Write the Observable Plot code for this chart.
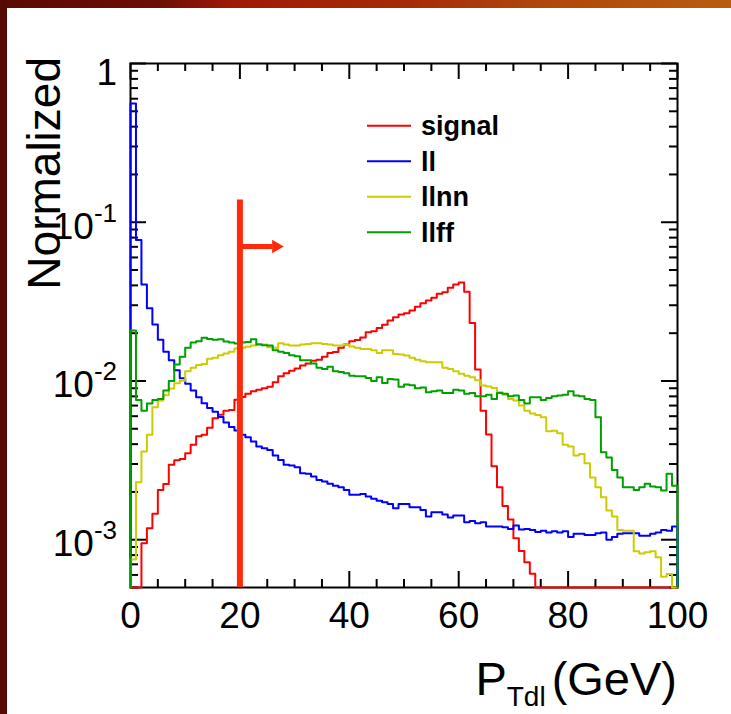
<!DOCTYPE html>
<html><head><meta charset="utf-8">
<script src="https://cdn.jsdelivr.net/npm/d3@7"></script>
<script src="https://cdn.jsdelivr.net/npm/@observablehq/plot@0.6"></script>
<style>
html,body{margin:0;padding:0;background:#fff;}
#wrap{position:relative;width:731px;height:714px;overflow:hidden;background:#fff;}
#leftband{position:absolute;left:0;top:0;width:7px;height:714px;background:#560a04;}
#topband{position:absolute;left:0;top:0;width:731px;height:8px;background:linear-gradient(90deg,#5a0a04 0%,#6e0e04 22%,#a01a06 32%,#a52a08 55%,#b0480c 75%,#b85c10 100%);}
svg text{font-family:"Liberation Sans",Arial,Helvetica,sans-serif;}
</style></head><body>
<div id="wrap"><div id="chart"></div><div id="topband"></div><div id="leftband"></div></div>
<script>
// ---- data (normalized content per 1 GeV bin, 0..100 GeV) ----
const binLow = d3.range(0, 100);
const signal = [0,0,0.00095,0.00118,0.00146,0.00206,0.00224,0.00297,0.00317,0.00322,
0.0035,0.00396,0.00449,0.00459,0.00507,0.00583,0.00612,0.0065,0.00656,0.00762,
0.00793,0.00832,0.0086,0.0088,0.0090,0.0092,0.0098,0.0107,0.0112,0.0116,
0.0120,0.0125,0.0129,0.0134,0.0136,0.0142,0.0150,0.0152,0.0162,0.0170,
0.0178,0.0181,0.0188,0.0203,0.0206,0.0216,0.0226,0.0240,0.0252,0.0262,
0.0267,0.0278,0.0294,0.0309,0.0321,0.0334,0.0354,0.0362,0.0386,0.0405,
0.0417,0.0365,0.0232,0.0118,0.0065,0.0046,0.0029,0.00214,0.00163,0.00134,
0.00102,0.00085,0.00072,0.00061,0,0,0,0,0,0,
0,0,0,0,0,0,0,0,0,0,
0,0,0,0,0,0,0,0,0,0];
const ll = [0.56,0.0773,0.0406,0.0287,0.0227,0.0182,0.0153,0.0135,0.0117,0.0104,
0.0096,0.0087,0.0079,0.00725,0.00676,0.0064,0.00594,0.00547,0.00513,0.00488,
0.00459,0.00442,0.00416,0.00386,0.00377,0.00368,0.00339,0.00318,0.00297,0.00293,
0.00286,0.00262,0.0026,0.0025,0.00238,0.00233,0.00225,0.00219,0.00214,0.00206,
0.00192,0.00192,0.00194,0.00187,0.00181,0.00176,0.00172,0.00168,0.00158,0.00168,
0.00168,0.0016,0.0016,0.00154,0.0014,0.00149,0.00149,0.00144,0.00138,0.00142,
0.00142,0.00129,0.00131,0.00127,0.00129,0.00121,0.00121,0.00121,0.0012,0.00117,
0.00123,0.00116,0.00117,0.00115,0.00112,0.00114,0.00111,0.00113,0.00111,0.00113,
0.00104,0.00109,0.00109,0.00107,0.00107,0.0011,0.00111,0.0010,0.00104,0.00109,
0.0011,0.0011,0.0011,0.00106,0.00106,0.00109,0.00111,0.00115,0.00114,0.00121];
const llnn = [0.00075,0.0023,0.00359,0.00459,0.00682,0.00753,0.00812,0.00897,0.00966,0.01005,
0.0115,0.0121,0.0126,0.0128,0.0138,0.0140,0.0145,0.0149,0.0153,0.0160,
0.0162,0.0164,0.0167,0.0171,0.0170,0.0163,0.0162,0.0173,0.0170,0.0167,
0.0167,0.0170,0.0171,0.0173,0.0173,0.0171,0.0170,0.0167,0.0167,0.0170,
0.0165,0.0162,0.0159,0.0159,0.0156,0.0150,0.0156,0.0156,0.0148,0.0147,
0.01445,0.0140,0.0136,0.0133,0.0131,0.0131,0.0131,0.0121,0.0119,0.0115,
0.0111,0.0108,0.01055,0.0101,0.00936,0.00922,0.00904,0.00849,0.0082,0.0077,
0.00753,0.0070,0.0065,0.00625,0.0061,0.0059,0.00482,0.00486,0.00468,0.00397,
0.00386,0.00339,0.00347,0.00303,0.00247,0.00214,0.00185,0.00153,0.0014,0.00115,
0.00114,0.00114,0.000845,0.00082,0.000834,0.000845,0.000775,0.000585,0.000608,0.00048];
const llff = [0.0208,0.0076,0.0065,0.0072,0.0076,0.0077,0.0087,0.0100,0.0127,0.0142,
0.0162,0.0175,0.0178,0.0187,0.0184,0.0182,0.0183,0.0177,0.0175,0.0172,
0.0175,0.0176,0.0183,0.0170,0.0168,0.0167,0.0156,0.0153,0.0150,0.0145,
0.0143,0.0135,0.0135,0.0129,0.0121,0.0119,0.0123,0.0115,0.0114,0.0112,
0.0108,0.0107,0.0107,0.01045,0.0100,0.01055,0.0097,0.0103,0.0102,0.0092,
0.0095,0.0094,0.0090,0.0091,0.0085,0.0086,0.0087,0.0084,0.0084,0.0088,
0.0087,0.0083,0.0084,0.0080,0.0080,0.0082,0.0077,0.0084,0.0083,0.0080,
0.0081,0.0076,0.0072,0.0079,0.0079,0.0076,0.0078,0.0080,0.0081,0.0082,
0.0086,0.0081,0.0080,0.0077,0.0076,0.0059,0.00356,0.0033,0.00275,0.00247,
0.00214,0.00214,0.00206,0.00214,0.00225,0.00216,0.00214,0.00204,0.0026,0.00219];
const seriesNames = ["signal", "ll", "llnn", "llff"];
const seriesColors = ["#ff0000", "#0000ff", "#cccc00", "#00a000"];
const xTickLabels = [0, 20, 40, 60, 80, 100];
const xMinorTicks = d3.range(0, 101, 5);
const yMajorTicks = [1, 0.1, 0.01, 0.001];
const yTickExponents = ["", "-1", "-2", "-3"];
const yMinorTicks = [0.0005,0.0006,0.0007,0.0008,0.0009,
  0.002,0.003,0.004,0.005,0.006,0.007,0.008,0.009,
  0.02,0.03,0.04,0.05,0.06,0.07,0.08,0.09,
  0.2,0.3,0.4,0.5,0.6,0.7,0.8,0.9];
const cut = {x: 20, top: 0.144, arrowY: 0.0703, lineEnd: 26, head: 26.6};
const yMin = 5e-4, yMax = 1, xMax = 100;

// ---- layout ----
const W = 731, H = 714, mL = 130, mR = 54, mT = 63, mB = 127;
const innerW = W - mL - mR, innerH = H - mT - mB;

function stepPoints(vals) {
  const pts = [{x: 0, y: yMin}];
  vals.forEach((v, i) => pts.push({x: binLow[i], y: Math.max(v, yMin)}));
  pts.push({x: xMax, y: Math.max(vals[vals.length - 1], yMin)});
  pts.push({x: xMax, y: yMin});
  return pts;
}
const allSeries = [signal, ll, llnn, llff];

const chart = Plot.plot({
  width: W, height: H, marginLeft: mL, marginRight: mR, marginTop: mT, marginBottom: mB,
  style: {background: "transparent", overflow: "visible"},
  x: {domain: [0, xMax], axis: null},
  y: {type: "log", domain: [yMin, yMax], axis: null},
  marks: [
    Plot.ruleX(xMinorTicks.filter(d => d % 20 !== 0), {x: d => d, insetTop: innerH - 8, stroke: "black", strokeWidth: 2}),
    Plot.ruleX(xTickLabels, {x: d => d, insetTop: innerH - 16, stroke: "black", strokeWidth: 2}),
    Plot.ruleX(xMinorTicks.filter(d => d % 20 !== 0), {x: d => d, insetBottom: innerH - 8, stroke: "black", strokeWidth: 2}),
    Plot.ruleX(xTickLabels, {x: d => d, insetBottom: innerH - 16, stroke: "black", strokeWidth: 2}),
    Plot.ruleY(yMinorTicks, {y: d => d, insetRight: innerW - 8, stroke: "black", strokeWidth: 2}),
    Plot.ruleY(yMajorTicks, {y: d => d, insetRight: innerW - 16, stroke: "black", strokeWidth: 2}),
    Plot.ruleY(yMinorTicks, {y: d => d, insetLeft: innerW - 8, stroke: "black", strokeWidth: 2}),
    Plot.ruleY(yMajorTicks, {y: d => d, insetLeft: innerW - 16, stroke: "black", strokeWidth: 2}),
    Plot.frame({stroke: "black", strokeWidth: 2}),
    ...allSeries.map((vals, i) => Plot.line(stepPoints(vals), {
      x: "x", y: "y", curve: "step-after", stroke: seriesColors[i], strokeWidth: 2
    })),
    Plot.ruleX([cut], {x: "x", y1: yMin, y2: "top", stroke: "#ff2a0a", strokeWidth: 6, insetBottom: -3}),
    Plot.ruleY([cut], {y: "arrowY", x1: "x", x2: "lineEnd", stroke: "#ff2a0a", strokeWidth: 5}),
    Plot.dot([cut], {x: "head", y: "arrowY", symbol: "triangle", r: 5, rotate: 90, fill: "#ff2a0a", stroke: "none"}),
    Plot.text(xTickLabels, {x: d => d, frameAnchor: "bottom", dy: 40, text: d => String(d), fontSize: 37, fill: "black"})
  ]
});

const svg = d3.select(chart);
const ys = v => chart.scale("y").apply(v);

// y tick labels with superscript exponents
yMajorTicks.forEach((v, i) => {
  const t = svg.append("text").attr("text-anchor", "end").attr("x", 117).attr("fill", "black");
  if (yTickExponents[i] === "") {
    t.attr("y", ys(v) + 22).attr("font-size", 37).text(String(v));
  } else {
    t.attr("y", ys(v) + 17);
    t.append("tspan").attr("font-size", 37).text("10");
    t.append("tspan").attr("font-size", 26).attr("dy", -17).text(yTickExponents[i]);
  }
});

// y title
svg.append("text").attr("transform", "translate(60,57) rotate(-90)")
  .attr("text-anchor", "end").attr("font-size", 46).attr("fill", "black").text("Normalized");

// x title
const xt = svg.append("text").attr("x", 677).attr("y", 695).attr("text-anchor", "end").attr("fill", "black");
xt.append("tspan").attr("font-size", 47).text("P");
xt.append("tspan").attr("font-size", 28).attr("dy", 11).text("Tdl");
xt.append("tspan").attr("font-size", 47).attr("dy", -11).attr("dx", 6).text("(GeV)");

// legend
seriesNames.forEach((name, i) => {
  const cy = 125.7 + i * 35.5;
  svg.append("line").attr("x1", 367).attr("x2", 411).attr("y1", cy).attr("y2", cy)
    .attr("stroke", seriesColors[i]).attr("stroke-width", 2);
  svg.append("text").attr("x", 421).attr("y", cy).attr("dy", "0.36em").attr("text-anchor", "start")
    .attr("font-size", 27).attr("font-weight", "bold").attr("fill", "black").text(name);
});

document.getElementById("chart").appendChild(chart);
</script></body></html>
